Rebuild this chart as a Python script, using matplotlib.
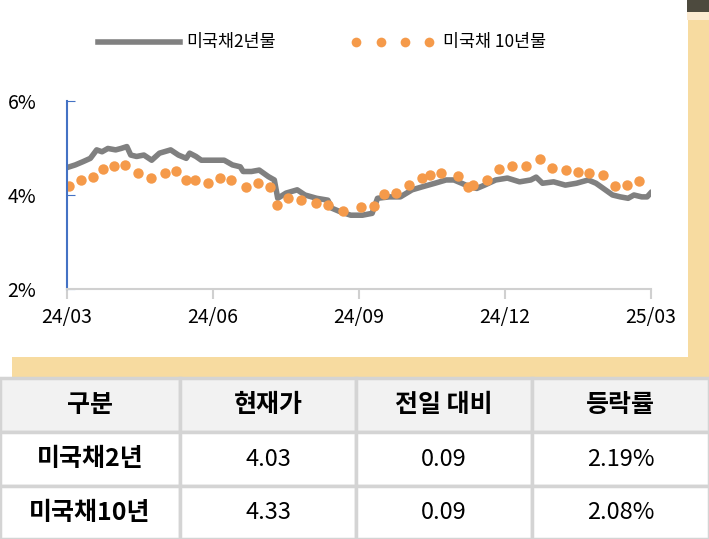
import matplotlib
matplotlib.use("Agg")
import matplotlib.pyplot as plt
from matplotlib import font_manager
from matplotlib.patches import Rectangle
from matplotlib.lines import Line2D

names = sorted({f.name for f in font_manager.fontManager.ttflist if "CJK" in f.name})
pref = [n for n in names if "KR" in n] + names
plt.rcParams["font.family"] = (pref[:1] if pref else []) + ["DejaVu Sans"]

# Data (x in months since 2024-03)
y2_x = [0.02, .17, .33, .48, .61, .72, .84, 1.0, 1.11, 1.23, 1.31, 1.43, 1.58, 1.74, 1.90, 2.13, 2.29, 2.45, 2.52,
        2.65, 2.76, 3.0, 3.23, 3.40, 3.56, 3.62, 3.79, 3.95, 4.14, 4.26, 4.33, 4.50, 4.73, 4.89, 5.13, 5.36,
        5.44, 5.60, 5.83, 6.07, 6.27, 6.38, 6.62, 6.85, 7.09, 7.32, 7.56, 7.79, 7.95, 8.11, 8.26, 8.42, 8.58,
        8.81, 9.05, 9.30, 9.53, 9.64, 9.77, 10.0, 10.24, 10.47, 10.71, 10.87, 11.02, 11.21, 11.37, 11.53, 11.65,
        11.81, 11.92, 11.99]
y2_v = [4.59, 4.64, 4.71, 4.78, 4.96, 4.92, 4.99, 4.96, 4.99, 5.03, 4.85, 4.82, 4.85, 4.74, 4.89, 4.96, 4.85,
        4.78, 4.89, 4.82, 4.74, 4.74, 4.74, 4.64, 4.60, 4.50, 4.50, 4.53, 4.39, 4.32, 3.93, 4.04, 4.11, 4.00,
        3.93, 3.89, 3.72, 3.65, 3.57, 3.57, 3.61, 3.93, 3.96, 3.96, 4.11, 4.18, 4.25, 4.32, 4.32, 4.25, 4.18,
        4.14, 4.21, 4.32, 4.36, 4.28, 4.32, 4.38, 4.25, 4.28, 4.21, 4.25, 4.32, 4.25, 4.14, 4.00, 3.96, 3.93,
        4.00, 3.96, 3.96, 4.04]
y10_x = [0.04, 0.28, 0.54, 0.73, 0.96, 1.20, 1.46, 1.72, 2.01, 2.24, 2.45, 2.64, 2.90, 3.15, 3.37, 3.67, 3.93,
         4.18, 4.31, 4.54, 4.81, 5.12, 5.37, 5.68, 6.04, 6.30, 6.51, 6.77, 7.02, 7.29, 7.45, 7.69, 8.04, 8.23,
         8.34, 8.63, 8.87, 9.15, 9.43, 9.71, 9.97, 10.26, 10.51, 10.73, 11.01, 11.27, 11.51, 11.76]
y10_v = [4.20, 4.32, 4.38, 4.55, 4.62, 4.64, 4.46, 4.36, 4.47, 4.51, 4.32, 4.32, 4.25, 4.36, 4.32, 4.18, 4.26,
         4.17, 3.79, 3.94, 3.89, 3.82, 3.79, 3.66, 3.75, 3.77, 4.02, 4.04, 4.21, 4.36, 4.43, 4.46, 4.40, 4.18,
         4.21, 4.32, 4.55, 4.62, 4.62, 4.77, 4.58, 4.53, 4.50, 4.47, 4.43, 4.19, 4.21, 4.30]
x_ticks = [0, 3, 6, 9, 12]
x_labels = ["24/03", "24/06", "24/09", "24/12", "25/03"]
y_ticks = [2, 4, 6]
y_labels = ["2%", "4%", "6%"]

header = ["구분", "현재가", "전일 대비", "등락률"]
rows = [["미국채2년", "4.03", "0.09", "2.19%"],
        ["미국채10년", "4.33", "0.09", "2.08%"]]

W, H = 709, 539
fig = plt.figure(figsize=(W / 100, H / 100), dpi=100)
fig.patch.set_facecolor("white")

def px(x, y, w, h):
    return [x / W, 1 - (y + h) / H, w / W, h / H]

beige = "#F7DBA0"
fig.add_artist(Rectangle((688 / W, 1 - 377 / H), 21 / W, 377 / H, transform=fig.transFigure, color=beige, lw=0))
fig.add_artist(Rectangle((12 / W, 1 - 377 / H), 697 / W, 20 / H, transform=fig.transFigure, color=beige, lw=0))
fig.add_artist(Rectangle((687 / W, 1 - 12 / H), 22 / W, 12 / H, transform=fig.transFigure, color="#4D4A3E", lw=0))
fig.add_artist(Rectangle((687 / W, 1 - 20 / H), 22 / W, 8 / H, transform=fig.transFigure, color="#FBEAD0", lw=0))

ax = fig.add_axes(px(67, 101, 584, 188))
ax.plot(y2_x, y2_v, color="#808080", lw=4)
ax.plot(y10_x, y10_v, "o", color="#F59A4A", ms=7.5, mec="none")
ax.set_xlim(0, 12)
ax.set_ylim(2, 6)
ax.set_xticks(x_ticks)
ax.set_xticklabels(x_labels, fontsize=14)
ax.set_yticks(y_ticks)
ax.set_yticklabels(y_labels, fontsize=14)
for s in ["top", "right"]:
    ax.spines[s].set_visible(False)
ax.spines["left"].set_color("#4472C4")
ax.spines["left"].set_linewidth(1.5)
ax.spines["bottom"].set_color("#D0D0D0")
ax.spines["bottom"].set_linewidth(1.5)
ax.tick_params(axis="y", length=6, color="#4472C4", direction="in", pad=22)
ax.tick_params(axis="x", length=7, color="#D0D0D0", width=1.5, pad=6)

fig.add_artist(Line2D([98 / W, 180 / W], [1 - 42 / H] * 2, color="#808080", lw=4, transform=fig.transFigure))
fig.text(186 / W, 1 - 42 / H, "미국채2년물", fontsize=12.5, va="center")
for i in range(4):
    fig.add_artist(Line2D([(356 + i * 24.5) / W], [1 - 42 / H], marker="o", color="#F59A4A", ms=7, mec="none",
                          transform=fig.transFigure))
fig.text(443 / W, 1 - 42 / H, "미국채 10년물", fontsize=12.5, va="center")

# Table
cols = [0, 180, 356, 532, 709]
rys = [378, 432, 486, 539]
for r in range(3):
    for c in range(4):
        x0, x1 = cols[c], cols[c + 1]
        y0, y1 = rys[r], rys[r + 1]
        fc = "#F2F2F2" if r == 0 else "white"
        fig.add_artist(Rectangle((x0 / W, 1 - y1 / H), (x1 - x0) / W, (y1 - y0) / H, transform=fig.transFigure,
                                 facecolor=fc, edgecolor="#D4D4D4", lw=2.5))
        txt = header[c] if r == 0 else rows[r - 1][c]
        bold = r == 0 or c == 0
        fig.text((x0 + x1) / 2 / W, 1 - (y0 + y1) / 2 / H, txt, ha="center", va="center",
                 fontsize=18 if bold else 17, fontweight="bold" if bold else "normal")

fig.savefig("out.png", dpi=100)
